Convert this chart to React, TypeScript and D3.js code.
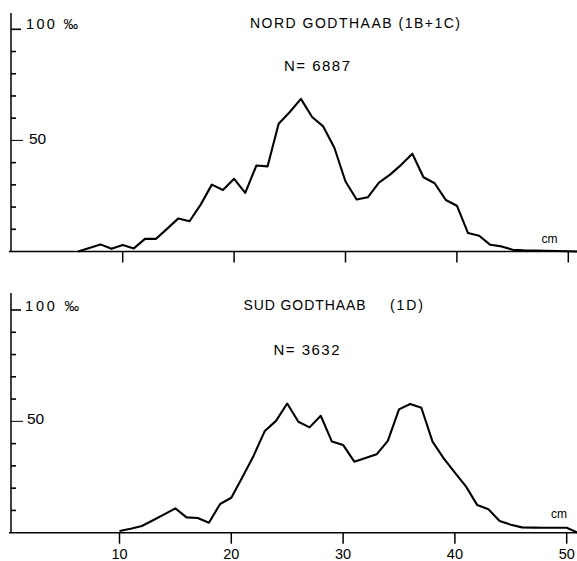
import React from "react";
import * as d3 from "d3";

const W = 577;
const H = 561;

const topCm = [6,7,8,9,10,11,12,13,14,15,16,17,18,19,20,21,22,23,24,25,26,27,28,29,30,31,32,33,34,35,36,37,38,39,40,41,42,43,44,45,46,47,48,49,50,51];
const topVal = [0,1.6,3.2,1.2,2.9,1.4,5.7,5.7,10.3,14.9,13.6,21.1,30.1,27.7,32.7,26.4,38.7,38.3,57.5,62.8,68.7,60.5,56.3,46.7,31.5,23.4,24.4,31.0,34.6,39.0,44.0,33.4,30.7,23.2,20.6,8.3,7.1,3.0,2.3,0.8,0.5,0.4,0.3,0.2,0.1,0];

const botCm = [10,11,12,13,14,15,16,17,18,19,20,21,22,23,24,25,26,27,28,29,30,31,32,33,34,35,36,37,38,39,40,41,42,43,44,45,46,47,48,49,50,51];
const botVal = [0.8,1.8,3.0,5.6,8.2,10.9,6.9,6.6,4.5,12.9,15.7,25,34.6,45.7,50.2,58,49.8,47.3,52.5,40.9,39.4,31.9,33.5,35.2,41.2,55.4,57.8,56.1,40.9,33.4,27,20.7,12.4,10.5,5.3,3.6,2.4,2.3,2.2,2.2,2.2,0];

const xTicks = [10, 20, 30, 40, 50];
const yTickValues = [10, 20, 30, 40, 50, 60, 70, 80, 90, 100];

const topTitle = "NORD GODTHAAB (1B+1C)";
const topN = "N= 6887";
const botTitleA = "SUD GODTHAAB";
const botTitleB = "(1D)";
const botN = "N= 3632";
const yTopLabel = "100 ‰";
const yMidLabel = "50";
const unitLabel = "cm";

const FONT = "'Liberation Sans', Arial, sans-serif";

type PanelProps = {
  cm: number[];
  val: number[];
  x: d3.ScaleLinear<number, number>;
  y: d3.ScaleLinear<number, number>;
  axisTop: number;
  showLabels: boolean;
};

function Panel({ cm, val, x, y, axisTop, showLabels }: PanelProps) {
  const pts = cm.map((c, i) => [c, val[i]] as [number, number]);
  const line = d3
    .line<[number, number]>()
    .x((d) => x(d[0]))
    .y((d) => y(d[1]));
  const y0 = y(0);
  const axX = 11;
  return (
    <g>
      <line x1={axX} x2={axX} y1={axisTop} y2={y0} stroke="#000" strokeWidth={1.5} />
      <line x1={9} x2={W} y1={y0} y2={y0} stroke="#000" strokeWidth={1.6} />
      {yTickValues.map((t) => (
        <line
          key={t}
          x1={axX}
          x2={t === 100 ? 21 : t === 50 ? 23 : 16}
          y1={y(t)}
          y2={y(t)}
          stroke="#000"
          strokeWidth={t === 50 ? 1 : 1.6}
        />
      ))}
      {xTicks.map((t) => (
        <line key={t} x1={x(t)} x2={x(t)} y1={y0} y2={y0 + 11} stroke="#000" strokeWidth={1.5} />
      ))}
      {showLabels &&
        xTicks.map((t) => (
          <text key={t} x={x(t)} y={y0 + 26} textAnchor="middle" fontSize={14.5} fontFamily={FONT} fill="#000">
            {t}
          </text>
        ))}
      <path d={line(pts) || ""} fill="none" stroke="#000" strokeWidth={2.1} strokeLinejoin="round" />
    </g>
  );
}

export default function App() {
  const xTop = d3.scaleLinear().domain([10, 50]).range([122.7, 568.3]);
  const yTop = d3.scaleLinear().domain([0, 100]).range([251.5, 29.3]);
  const xBot = d3.scaleLinear().domain([10, 50]).range([119.5, 566.7]);
  const yBot = d3.scaleLinear().domain([0, 100]).range([532.7, 310]);

  return (
    <svg
      width={W}
      height={H}
      style={{ position: "absolute", left: 0, top: 0, background: "#fff" }}
      xmlns="http://www.w3.org/2000/svg"
    >
      <rect x={0} y={0} width={W} height={H} fill="#fff" />
      <Panel cm={topCm} val={topVal} x={xTop} y={yTop} axisTop={13} showLabels={false} />
      <Panel cm={botCm} val={botVal} x={xBot} y={yBot} axisTop={293} showLabels={true} />

      <g fontFamily={FONT} fill="#000">
        <text x={250} y={27.7} fontSize={14} textLength={210} lengthAdjust="spacing">{topTitle}</text>
        <text x={284} y={70.7} fontSize={15} textLength={66} lengthAdjust="spacing">{topN}</text>
        <text x={26} y={28.5} fontSize={14.5} textLength={52} lengthAdjust="spacing">{yTopLabel}</text>
        <text x={29} y={143.5} fontSize={15.5}>{yMidLabel}</text>
        <text x={541.5} y={243.3} fontSize={12}>{unitLabel}</text>

        <text x={243.5} y={310} fontSize={14} textLength={122} lengthAdjust="spacing">{botTitleA}</text>
        <text x={390} y={310} fontSize={14} textLength={33} lengthAdjust="spacing">{botTitleB}</text>
        <text x={273.5} y={355} fontSize={15} textLength={66} lengthAdjust="spacing">{botN}</text>
        <text x={25} y={310.7} fontSize={14.5} textLength={54} lengthAdjust="spacing">{yTopLabel}</text>
        <text x={27} y={424} fontSize={15.5}>{yMidLabel}</text>
        <text x={551} y={517.5} fontSize={12}>{unitLabel}</text>
      </g>
    </svg>
  );
}
